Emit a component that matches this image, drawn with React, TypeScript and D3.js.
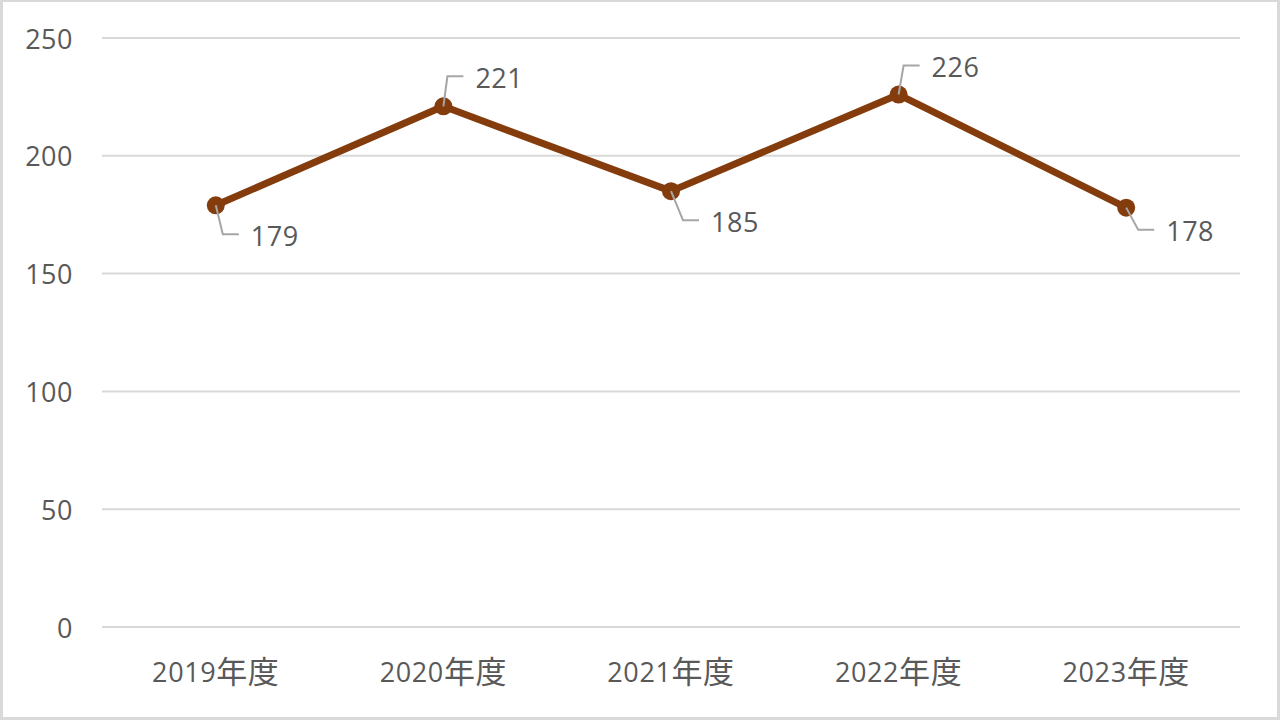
import React from "react";
import * as d3 from "d3";

const categories = ["2019年度", "2020年度", "2021年度", "2022年度", "2023年度"];
const values = [179, 221, 185, 226, 178];
const yTicks = [0, 50, 100, 150, 200, 250];
// leader-line elbow offsets for each data label [dx, dy]
const labelOffsets: [number, number][] = [
  [7, 29],
  [4, -30],
  [12, 29],
  [5, -29],
  [12, 22],
];

const W = 1280;
const H = 720;
const plot = { left: 102, right: 1240, top: 38, bottom: 627 };

export default function App() {
  const x = d3
    .scaleBand<string>()
    .domain(categories)
    .range([plot.left, plot.right]);
  const y = d3.scaleLinear().domain([0, 250]).range([plot.bottom, plot.top]);
  const cx = (c: string) => (x(c) as number) + x.bandwidth() / 2;
  const line = d3
    .line<number>()
    .x((_, i) => cx(categories[i]))
    .y((d) => y(d));

  const font = "'Open Sans', 'Noto Sans CJK JP', sans-serif";
  const textColor = "#595959";

  return (
    <div style={{ position: "fixed", left: 0, top: 0 }}>
      <svg width={W} height={H} style={{ display: "block", background: "#fff" }}>
        <rect x={1.5} y={0.5} width={W - 3} height={H - 2} fill="#fff" stroke="#d9d9d9" strokeWidth={3} />
        {yTicks.map((t) => (
          <g key={t}>
            <line x1={plot.left} x2={plot.right} y1={y(t)} y2={y(t)} stroke="#d9d9d9" strokeWidth={2} />
            <text
              x={73}
              y={y(t)}
              textAnchor="end"
              dominantBaseline="central"
              fontFamily={font}
              fontSize={27}
              letterSpacing={0.5}
              fill={textColor}
            >
              {t}
            </text>
          </g>
        ))}
        {categories.map((c) => {
          const m = c.match(/^(\d+)(.*)$/);
          return (
            <text
              key={c}
              x={cx(c)}
              y={671}
              textAnchor="middle"
              dominantBaseline="central"
              fontFamily={font}
              fontSize={27}
              letterSpacing={0.6}
              fill={textColor}
            >
              {m ? m[1] : c}
              {m ? <tspan fontSize={31}>{m[2]}</tspan> : null}
            </text>
          );
        })}
        <path d={line(values) || ""} fill="none" stroke="#843C0C" strokeWidth={7} strokeLinejoin="round" />
        {values.map((v, i) => (
          <circle key={i} cx={cx(categories[i])} cy={y(v)} r={9} fill="#843C0C" />
        ))}
        {values.map((v, i) => {
          const px = cx(categories[i]);
          const py = y(v);
          const [dx, dy] = labelOffsets[i];
          const bx = px + dx;
          const by = py + dy;
          const ex = bx + 16;
          return (
            <g key={"l" + i}>
              <polyline
                points={`${px},${py} ${bx},${by} ${ex},${by}`}
                fill="none"
                stroke="#a6a6a6"
                strokeWidth={2}
              />
              <text
                x={ex + 12}
                y={by + 1}
                dominantBaseline="central"
                fontFamily={font}
                fontSize={27}
                letterSpacing={0.5}
                fill={textColor}
              >
                {v}
              </text>
            </g>
          );
        })}
      </svg>
    </div>
  );
}
